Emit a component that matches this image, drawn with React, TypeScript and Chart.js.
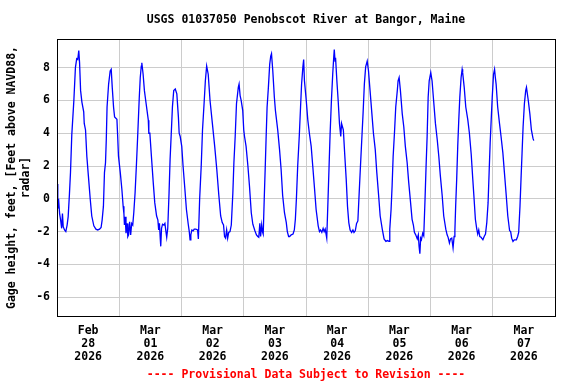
import React, { useEffect, useRef } from 'react';
import { Chart, registerables } from 'chart.js';

Chart.register(...registerables);

const TITLE = 'USGS 01037050 Penobscot River at Bangor, Maine';
const Y_TITLE = ['Gage height, feet, [Feet above NAVD88,', 'radar]'];
const FOOTER = '---- Provisional Data Subject to Revision ----';
const DAY_LABELS = [
  ['Feb', '28', '2026'],
  ['Mar', '01', '2026'],
  ['Mar', '02', '2026'],
  ['Mar', '03', '2026'],
  ['Mar', '04', '2026'],
  ['Mar', '05', '2026'],
  ['Mar', '06', '2026'],
  ['Mar', '07', '2026'],
];
const Y_TICKS = [-6, -4, -2, 0, 2, 4, 6, 8];
const X_TICKS = [0, 12, 24, 36, 48, 60, 72, 84, 96, 108, 120, 132, 144, 156, 168, 180, 192];

// hours since Feb 28 2026 00:00
const HOURS = [
  0.0, 0.3, 0.6, 1.0, 1.4, 1.8, 2.1, 2.4, 2.9, 3.4, 3.9, 4.3, 4.8, 5.2, 5.7, 6.5, 7.1, 7.6, 8.0, 8.4,
  8.7, 9.1, 9.6, 10.3, 10.5, 11.0, 11.5, 12.1, 12.8, 13.4, 14.2, 15.0, 15.7, 16.4, 17.0, 17.4, 17.9, 18.3, 18.7, 19.0,
  19.3, 19.9, 20.5, 20.9, 21.3, 21.8, 22.2, 23.1, 23.4, 23.7, 24.4, 25.0, 25.5, 25.8, 26.0, 26.3, 26.6, 27.0, 27.3, 27.6,
  28.0, 28.4, 28.8, 29.2, 29.6, 30.1, 30.6, 31.1, 31.7, 32.1, 32.5, 32.7, 33.2, 33.7, 34.2, 35.2, 35.4, 35.8, 36.4, 37.1,
  37.7, 38.4, 38.9, 39.2, 39.5, 39.8, 40.0, 40.3, 40.7, 41.2, 41.6, 42.0, 42.3, 42.7, 43.2, 43.6, 44.0, 44.5, 45.0, 45.6,
  46.2, 46.8, 47.1, 47.5, 48.1, 48.6, 49.3, 49.9, 50.6, 51.0, 51.3, 51.6, 52.0, 52.5, 52.9, 53.5, 54.2, 54.5, 55.0, 55.6,
  56.1, 56.7, 57.2, 57.7, 58.3, 59.0, 59.9, 60.8, 61.6, 62.4, 63.1, 63.7, 64.2, 64.6, 65.0, 65.4, 65.8, 66.2, 66.7, 67.2,
  67.8, 68.2, 68.7, 69.2, 69.9, 70.2, 70.6, 71.0, 71.6, 72.0, 72.3, 72.9, 73.6, 74.2, 74.9, 75.5, 76.3, 76.9, 77.4, 77.8,
  78.2, 78.5, 78.9, 79.2, 79.5, 79.9, 80.3, 80.6, 81.0, 81.5, 82.0, 82.4, 82.7, 83.2, 83.8, 84.2, 84.5, 85.1, 85.8, 86.4,
  87.0, 87.7, 88.1, 88.4, 88.8, 89.3, 89.7, 90.3, 91.0, 91.5, 91.9, 92.3, 92.8, 93.4, 93.9, 94.3, 94.8, 95.1, 95.4, 96.1,
  96.7, 97.3, 98.0, 98.6, 99.3, 99.9, 100.7, 101.2, 101.6, 102.1, 102.6, 103.0, 103.4, 104.0, 104.5, 104.9, 105.3, 105.8, 106.3, 106.7,
  106.9, 107.2, 107.4, 107.9, 108.4, 108.9, 109.4, 109.7, 110.4, 110.9, 111.5, 112.0, 112.5, 113.0, 113.6, 114.1, 114.5, 115.0, 115.5, 116.0,
  116.5, 117.0, 117.5, 118.0, 118.5, 119.0, 119.6, 120.1, 120.7, 121.4, 122.0, 122.7, 123.3, 124.0, 124.6, 125.4, 126.1, 126.8, 127.4, 128.0,
  128.3, 128.8, 129.2, 129.6, 130.1, 130.6, 131.2, 131.5, 131.9, 132.4, 133.1, 133.7, 134.3, 135.0, 135.6, 136.3, 136.9, 137.4, 137.8, 138.3,
  138.9, 139.3, 139.6, 139.9, 140.2, 140.5, 141.0, 141.4, 141.9, 142.3, 142.7, 143.1, 143.5, 144.1, 144.6, 145.2, 145.9, 146.6, 147.2, 147.8,
  148.5, 149.1, 149.9, 150.4, 150.8, 151.3, 151.7, 152.2, 152.7, 153.1, 153.4, 153.7, 154.1, 154.5, 154.9, 155.3, 155.8, 156.2, 156.4, 157.0,
  157.6, 158.4, 159.0, 159.7, 160.3, 160.8, 161.3, 161.8, 162.2, 162.6, 163.0, 163.5, 164.2, 164.7, 165.2, 165.7, 166.2, 166.6, 167.0, 167.4,
  167.8, 168.3, 168.7, 169.0, 169.3, 169.9, 170.6, 171.2, 171.9, 172.5, 173.2, 173.8, 174.5, 174.9, 175.3, 175.8, 176.3, 177.1, 177.6, 178.0,
  178.5, 178.9, 179.3, 179.7, 180.2, 180.7, 181.0, 181.2, 181.7, 182.3, 182.9, 183.5, 183.8,
];

const GAGE = [
  0.9, -0.6, 0.0, -0.9, -1.3, -1.8, -0.9, -1.7, -1.9, -2.0, -1.6, -1.1, 0.3, 1.6, 3.9, 6.0, 8.0, 8.55, 8.5, 9.05,
  8.3, 6.6, 5.9, 5.3, 4.6, 4.2, 2.6, 1.4, 0.0, -1.05, -1.65, -1.85, -1.9, -1.85, -1.75, -1.3, -0.45, 1.6, 2.2, 3.6,
  5.6, 7.0, 7.8, 7.9, 6.8, 5.6, 5.0, 4.85, 3.8, 2.6, 1.6, 0.6, -0.45, -0.9, -1.6, -1.1, -2.1, -1.5, -2.3, -2.2,
  -1.4, -2.2, -1.5, -1.6, -0.85, 0.35, 2.0, 3.8, 6.1, 7.4, 8.1, 8.3, 7.6, 6.6, 6.0, 4.8, 4.0, 4.0, 2.6, 1.0,
  -0.25, -1.05, -1.3, -1.9, -1.5, -2.4, -2.9, -1.8, -1.55, -1.6, -1.5, -2.0, -2.35, -1.8, 0.35, 2.4, 3.8, 5.6, 6.6, 6.7,
  6.4, 5.0, 4.0, 3.8, 3.2, 2.0, 0.6, -0.65, -1.55, -2.0, -2.5, -2.2, -1.9, -1.95, -1.85, -1.85, -1.9, -2.45, 0.0, 2.0,
  4.2, 5.8, 7.2, 8.1, 7.6, 6.0, 4.6, 3.2, 1.8, 0.2, -1.05, -1.45, -1.6, -2.3, -2.4, -1.9, -2.4, -2.05, -2.0, -1.6,
  0.35, 2.2, 3.8, 5.8, 6.8, 7.0, 6.3, 6.0, 5.4, 4.2, 3.8, 3.2, 2.0, 0.8, -0.85, -1.55, -1.95, -2.2, -2.3, -2.35,
  -1.5, -2.3, -1.6, -2.0, -2.15, 0.0, 2.0, 3.6, 5.6, 6.8, 8.2, 8.7, 8.85, 7.8, 6.2, 5.4, 5.0, 4.2, 3.0, 1.8,
  0.2, -0.85, -1.2, -1.45, -2.0, -2.3, -2.3, -2.2, -2.15, -1.9, -1.25, 0.0, 2.0, 3.8, 5.6, 7.0, 8.05, 8.5, 7.2, 6.0,
  4.8, 4.0, 3.2, 2.0, 0.6, -0.65, -1.65, -2.0, -1.9, -2.05, -1.8, -2.0, -1.85, -2.4, 0.0, 2.0, 4.0, 6.0, 7.6, 8.65,
  9.1, 8.4, 8.6, 7.2, 6.0, 4.6, 3.8, 4.6, 4.2, 2.8, 1.2, -0.45, -1.45, -1.9, -2.05, -1.9, -2.05, -1.95, -1.5, -1.35,
  0.35, 2.0, 3.6, 5.2, 7.0, 8.05, 8.4, 7.8, 6.6, 5.2, 4.0, 3.0, 1.6, 0.2, -1.05, -1.85, -2.45, -2.6, -2.55, -2.6,
  -1.85, -0.65, 0.8, 2.6, 4.0, 5.6, 6.6, 7.2, 7.4, 6.6, 5.2, 4.4, 3.2, 2.2, 1.0, -0.2, -1.25, -1.6, -2.05, -2.2,
  -2.45, -2.2, -2.9, -3.35, -2.4, -2.5, -2.1, -2.25, 0.0, 2.0, 3.8, 6.2, 7.2, 7.7, 7.2, 6.0, 4.6, 3.6, 2.6, 1.4,
  0.2, -1.05, -1.85, -2.2, -2.35, -2.7, -2.45, -2.4, -3.0, -2.3, -1.95, -0.45, 1.2, 3.2, 4.8, 6.2, 7.4, 7.9, 7.7, 6.8,
  5.6, 4.8, 4.0, 2.7, 1.2, 0.0, -1.25, -1.8, -2.15, -1.9, -2.3, -2.35, -2.5, -2.3, -2.15, -1.45, -0.25, 1.6, 3.4, 4.8,
  6.2, 7.6, 7.9, 7.4, 7.0, 5.6, 4.6, 3.8, 2.8, 1.6, 0.2, -1.05, -1.95, -2.0, -2.4, -2.6, -2.5, -2.5, -2.3, -2.05,
  -0.45, 1.2, 2.8, 4.4, 5.8, 6.6, 6.8, 6.8, 6.0, 5.2, 4.2, 3.7, 3.55,
];

const FONT_FAMILY = '"DejaVu Sans Mono", "Liberation Mono", monospace';

const framePlugin = {
  id: 'frame',
  afterDraw(chart: any) {
    const { ctx, chartArea } = chart;
    const { left, right, top, bottom } = chartArea;
    ctx.save();
    ctx.strokeStyle = '#000000';
    ctx.lineWidth = 1;
    ctx.strokeRect(Math.round(left) + 0.5, Math.round(top) + 0.5, Math.round(right - left), Math.round(bottom - top));
    const cx = (left + right) / 2;
    ctx.font = `bold 11.5px ${FONT_FAMILY}`;
    ctx.textAlign = 'center';
    ctx.textBaseline = 'middle';
    ctx.fillStyle = '#000000';
    ctx.fillText(TITLE, cx, 20);
    ctx.fillStyle = '#ff0000';
    ctx.fillText(FOOTER, cx, 375);
    ctx.restore();
  },
};

export default function App() {
  const canvasRef = useRef<HTMLCanvasElement | null>(null);

  useEffect(() => {
    const canvas = canvasRef.current;
    if (!canvas) return;
    const points = HOURS.map((h, i) => ({ x: h, y: GAGE[i] }));
    const chart = new Chart(canvas, {
      type: 'line',
      data: {
        datasets: [
          {
            data: points,
            borderColor: '#0000ff',
            borderWidth: 1.3,
            pointRadius: 0,
            tension: 0,
            fill: false,
          },
        ],
      },
      options: {
        animation: false,
        responsive: false,
        maintainAspectRatio: false,
        layout: { padding: { top: 39, right: 21, bottom: 0, left: 0 } },
        plugins: {
          legend: { display: false },
          title: { display: false },
          tooltip: { enabled: false },
        },
        scales: {
          x: {
            type: 'linear',
            min: 0,
            max: 192,
            afterBuildTicks: (s: any) => {
              s.ticks = X_TICKS.map((v) => ({ value: v }));
            },
            afterFit: (s: any) => {
              s.height = 68;
            },
            grid: {
              drawTicks: false,
              lineWidth: 1,
              color: (c: any) => {
                const v = c.tick ? c.tick.value : -1;
                return v % 24 === 0 && v > 0 && v < 192 ? '#cccccc' : 'rgba(0,0,0,0)';
              },
            },
            border: { display: false },
            ticks: {
              autoSkip: false,
              maxRotation: 0,
              minRotation: 0,
              padding: 9,
              color: '#000000',
              font: { family: FONT_FAMILY, size: 11.5, weight: 'bold', lineHeight: 1.13 },
              callback: (v: any) => {
                const n = Number(v);
                return n % 24 === 12 ? DAY_LABELS[(n - 12) / 24] : '';
              },
            },
          },
          y: {
            type: 'linear',
            min: -7.15,
            max: 9.75,
            afterBuildTicks: (s: any) => {
              s.ticks = Y_TICKS.map((v) => ({ value: v }));
            },
            afterFit: (s: any) => {
              s.width = 57;
            },
            grid: { drawTicks: false, color: '#cccccc', lineWidth: 1 },
            border: { display: false },
            ticks: {
              padding: 7,
              color: '#000000',
              font: { family: FONT_FAMILY, size: 11.5, weight: 'bold' },
              callback: (v: any) => String(v),
            },
            title: {
              display: true,
              text: Y_TITLE,
              color: '#000000',
              padding: { top: 5, bottom: 0 },
              font: { family: FONT_FAMILY, size: 11.5, weight: 'bold', lineHeight: 1.2 },
            },
          },
        },
      },
      plugins: [framePlugin],
    });
    return () => chart.destroy();
  }, []);

  return (
    <div style={{ position: 'absolute', left: 0, top: 0, width: 576, height: 384, background: '#ffffff' }}>
      <canvas ref={canvasRef} width={576} height={384} />
    </div>
  );
}
